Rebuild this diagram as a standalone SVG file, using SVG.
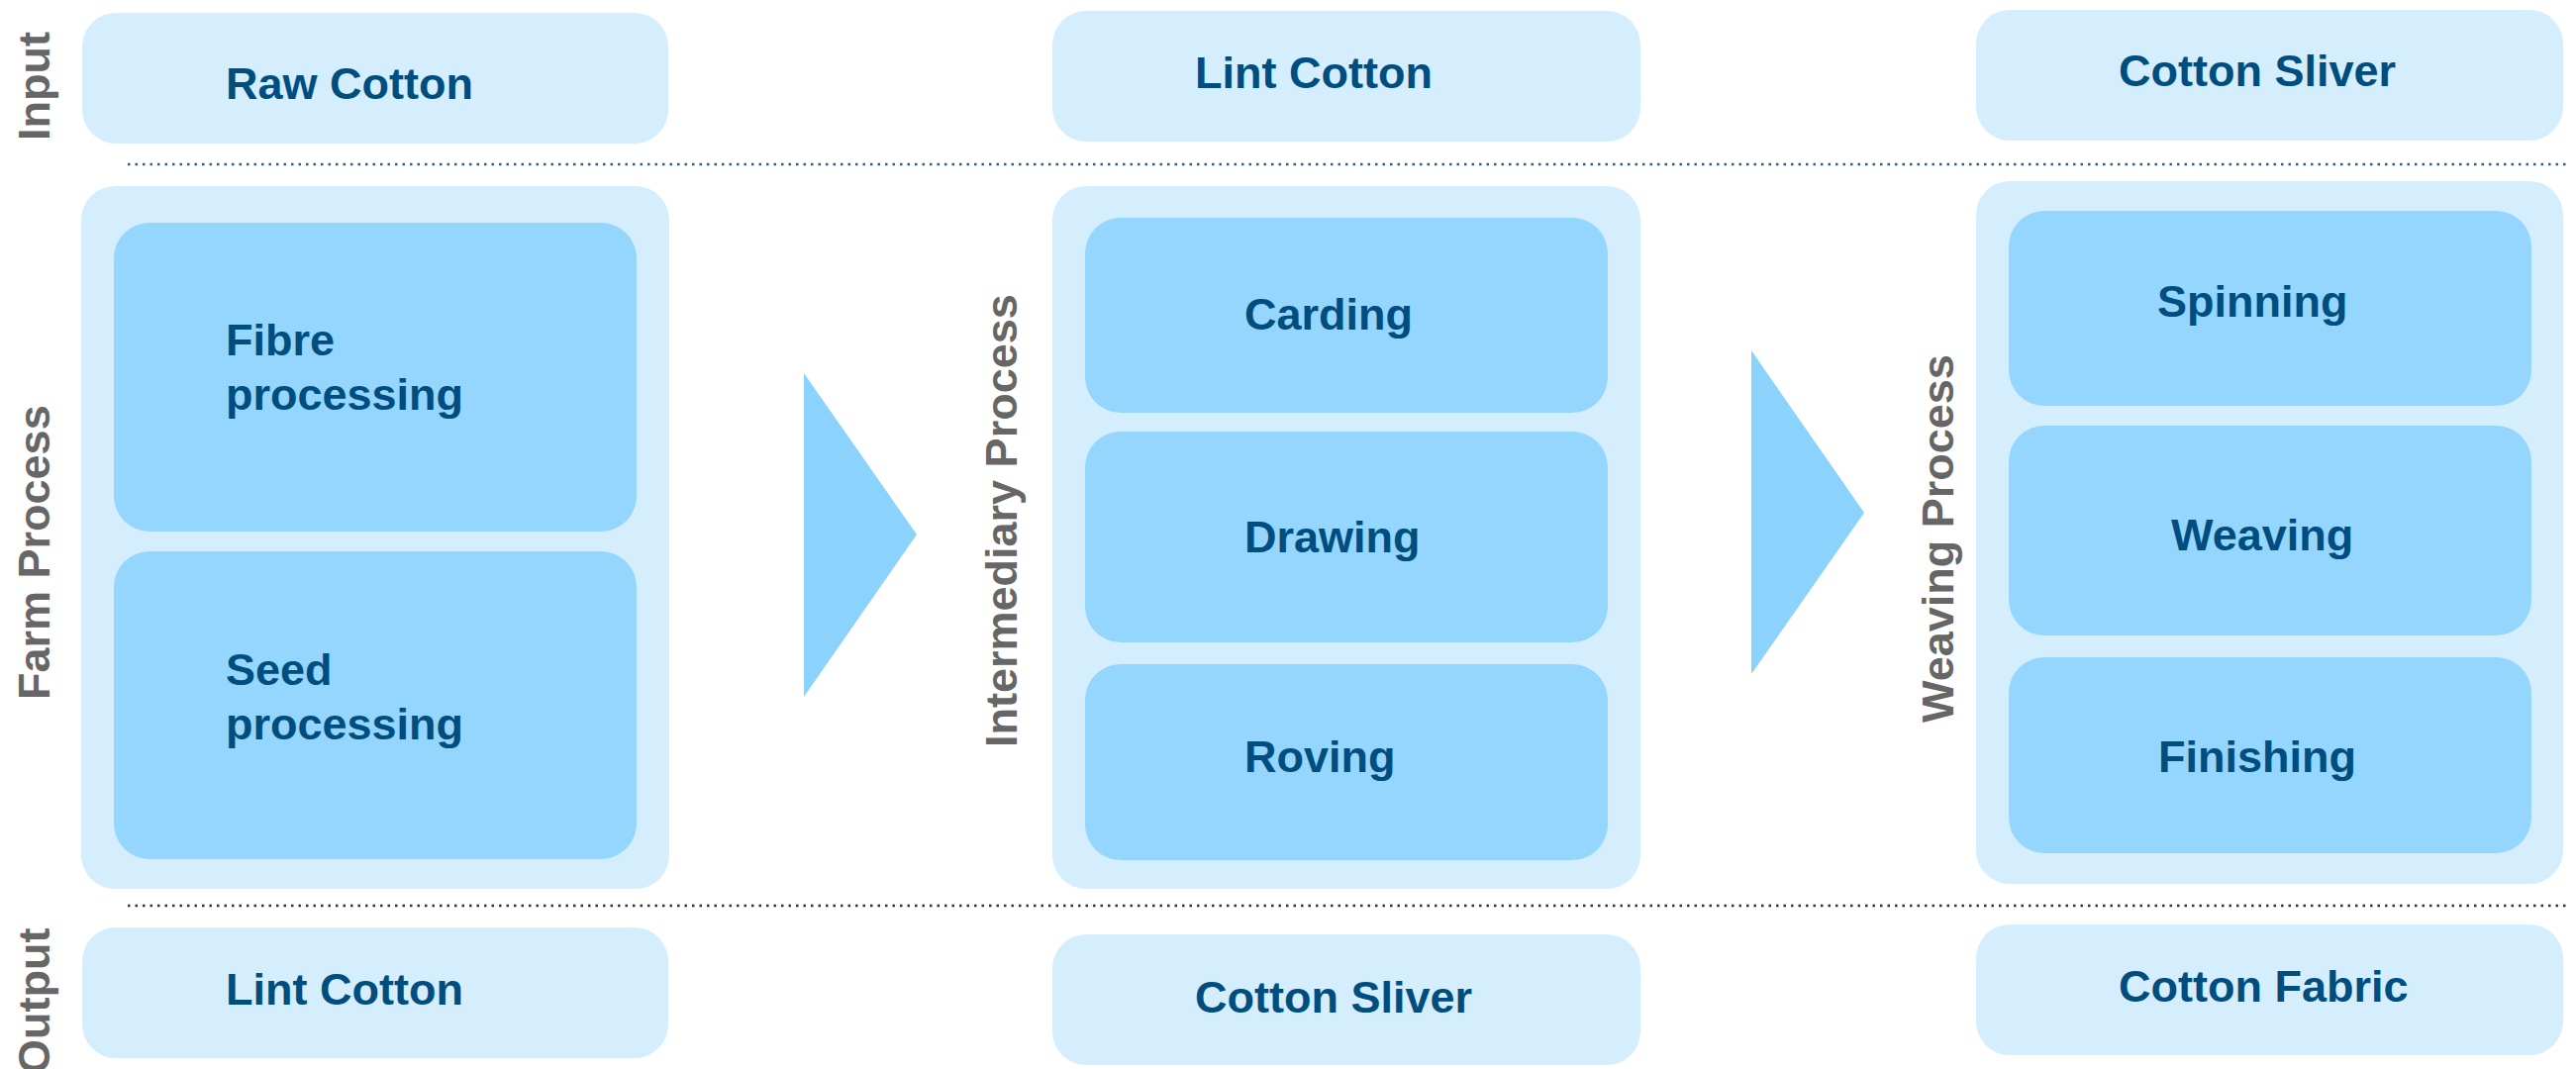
<svg xmlns="http://www.w3.org/2000/svg" width="2602" height="1080" viewBox="0 0 2602 1080">
<style>
.box{fill:#d5eefd}
.inner{fill:#94d6fd}
.t{font-family:"Liberation Sans",Arial,sans-serif;font-weight:bold;font-size:45px;fill:#004d80}
.lbl{font-family:"Liberation Sans",Arial,sans-serif;font-weight:bold;font-size:45px;fill:#666666}
.arrow{fill:#8bd3fd}
</style>
<rect width="2602" height="1080" fill="#ffffff"/>
<g id="row-labels">
<text class="lbl" transform="translate(50,142) rotate(-90)">Input</text>
<text class="lbl" transform="translate(50,707) rotate(-90)">Farm Process</text>
<text class="lbl" transform="translate(50,1085) rotate(-90)">Output</text>
</g>
<g id="dividers">
<line x1="129" y1="166" x2="2592" y2="166" stroke="#2f5d87" stroke-width="2.5" stroke-dasharray="2.5 5"/>
<line x1="129" y1="915" x2="2592" y2="915" stroke="#333333" stroke-width="2.5" stroke-dasharray="2.5 5"/>
</g>
<g id="farm-input"><rect class="box" x="83" y="13" width="592" height="132" rx="34"/><text class="t" x="228" y="100">Raw Cotton</text></g>
<g id="farm-process"><rect class="box" x="82" y="188" width="594" height="710" rx="34"/></g>
<g id="fibre-processing"><rect class="inner" x="115" y="225" width="528" height="312" rx="36"/><text class="t" x="228" y="359">Fibre</text><text class="t" x="228" y="414">processing</text></g>
<g id="seed-processing"><rect class="inner" x="115" y="557" width="528" height="311" rx="36"/><text class="t" x="228" y="692">Seed</text><text class="t" x="228" y="747">processing</text></g>
<g id="farm-output"><rect class="box" x="83" y="937" width="592" height="132" rx="34"/><text class="t" x="228" y="1015">Lint Cotton</text></g>

<g id="intermediary-label"><text class="lbl" transform="translate(1027,755) rotate(-90)">Intermediary Process</text></g>
<g id="inter-input"><rect class="box" x="1063" y="11" width="594" height="132" rx="34"/><text class="t" x="1207" y="89">Lint Cotton</text></g>
<g id="intermediary-process"><rect class="box" x="1063" y="188" width="594" height="710" rx="34"/></g>
<g id="carding"><rect class="inner" x="1096" y="220" width="528" height="197" rx="36"/><text class="t" x="1257" y="333">Carding</text></g>
<g id="drawing"><rect class="inner" x="1096" y="436" width="528" height="213" rx="36"/><text class="t" x="1257" y="558">Drawing</text></g>
<g id="roving"><rect class="inner" x="1096" y="671" width="528" height="198" rx="36"/><text class="t" x="1257" y="780">Roving</text></g>
<g id="inter-output"><rect class="box" x="1063" y="944" width="594" height="132" rx="34"/><text class="t" x="1207" y="1023">Cotton Sliver</text></g>

<g id="weaving-label"><text class="lbl" transform="translate(1973,730) rotate(-90)">Weaving Process</text></g>
<g id="weave-input"><rect class="box" x="1996" y="10" width="593" height="132" rx="34"/><text class="t" x="2140" y="87">Cotton Sliver</text></g>
<g id="weaving-process"><rect class="box" x="1996" y="183" width="593" height="710" rx="34"/></g>
<g id="spinning"><rect class="inner" x="2029" y="213" width="528" height="197" rx="36"/><text class="t" x="2179" y="320">Spinning</text></g>
<g id="weaving"><rect class="inner" x="2029" y="430" width="528" height="212" rx="36"/><text class="t" x="2193" y="556">Weaving</text></g>
<g id="finishing"><rect class="inner" x="2029" y="664" width="528" height="198" rx="36"/><text class="t" x="2180" y="780">Finishing</text></g>
<g id="weave-output"><rect class="box" x="1996" y="934" width="593" height="132" rx="34"/><text class="t" x="2140" y="1012">Cotton Fabric</text></g>

<g id="connectors">
<polygon class="arrow" points="812,377 926,540 812,704"/>
<polygon class="arrow" points="1769,354 1883,518 1769,681"/>
</g>
</svg>
